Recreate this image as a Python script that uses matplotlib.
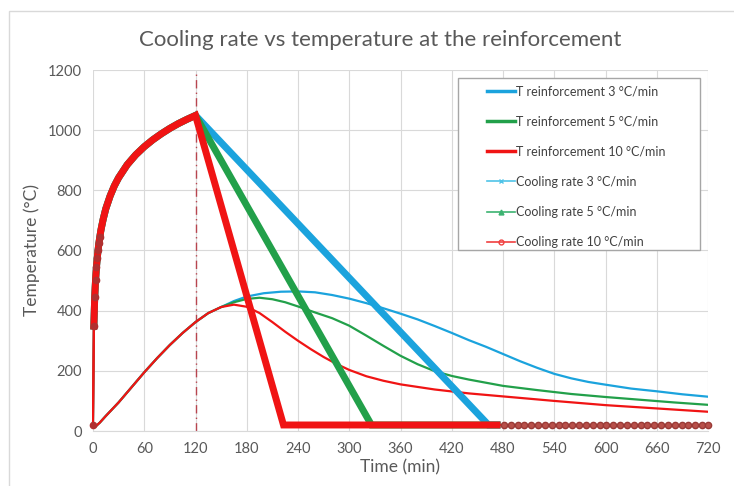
import numpy as np
import matplotlib
matplotlib.use('Agg')
from matplotlib import pyplot as plt
from matplotlib.lines import Line2D
from matplotlib.patches import Rectangle

plt.rcParams['font.family'] = ['Lato', 'DejaVu Sans']

# gas (fire) curve, heating branch shared by the three cooling rates
heat_t = [0, 1, 2, 3, 4, 5, 6, 7, 8, 9, 10, 12, 15, 20, 25, 30, 40, 50, 60, 70, 80, 90, 100, 110, 120]
heat_T = [20, 349, 445, 502, 544, 576, 603, 626, 645, 663, 678, 705, 739, 781, 815, 842, 885, 918, 945,
          968, 988, 1006, 1022, 1036, 1049]

# cooling branches: time where 20 C is reached, end of dense data
cool_end = {'3': 463, '5': 326, '10': 223}
dense_end = 473
tail_t = list(range(481, 721, 8))
ambient = 20

# temperature at the reinforcement
rf_t_common = [0, 3, 8, 15, 20, 30, 45, 60, 75, 90, 105, 120, 135, 150]
rf_T_common = [20, 15, 28, 50, 65, 95, 145, 195, 242, 286, 326, 362, 392, 412]

rf10_t = [165, 180, 195, 210, 225, 240, 255, 270, 285, 300, 320, 340, 360, 400, 440, 480, 540, 600, 660, 720]
rf10_T = [420, 413, 392, 362, 330, 300, 272, 246, 223, 203, 182, 167, 155, 138, 125, 115, 100, 86, 75, 64]

rf5_t = [165, 180, 195, 210, 225, 240, 260, 280, 300, 320, 340, 360, 380, 400, 420, 440, 480, 520, 560, 600, 640, 680, 720]
rf5_T = [428, 439, 443, 438, 428, 414, 394, 375, 350, 317, 283, 250, 222, 199, 183, 171, 150, 136, 123, 113, 104, 95, 87]

rf3_t = [165, 180, 200, 220, 240, 260, 280, 300, 320, 340, 360, 380, 400, 420, 440, 460, 480, 500, 520, 540,
         560, 580, 600, 630, 660, 690, 720]
rf3_T = [432, 447, 458, 463, 464, 461, 452, 440, 425, 408, 390, 371, 349, 326, 302, 280, 256, 232, 210, 190,
         175, 163, 154, 141, 132, 122, 114]

c_blue = '#1ba3dd'
c_green = '#22a04a'
c_red = '#f01414'
c_mk = '#b03030'

fig = plt.figure(figsize=(7.34, 4.86), dpi=100)
fig.patches.append(Rectangle((9/734, -0.01), 1.0, (486-11)/486 + 0.01, transform=fig.transFigure,
                             fill=False, edgecolor='#d9d9d9', lw=1))
ax = fig.add_axes([93/734, 55/486, 615/734, 361/486])

# reinforcement curves
ax.plot(rf_t_common + rf3_t, rf_T_common + rf3_T, color=c_blue, lw=1.6, zorder=2)
ax.plot(rf_t_common + rf5_t, rf_T_common + rf5_T, color=c_green, lw=1.6, zorder=2)
ax.plot(rf_t_common + rf10_t, rf_T_common + rf10_T, color=c_red, lw=1.6, zorder=2)

# gas curves: thin start, then thick part
for key, col in [('3', c_blue), ('5', c_green), ('10', c_red)]:
    ax.plot(heat_t[:2], heat_T[:2], color=col, lw=1.5, zorder=3, clip_on=False)
    ax.plot(heat_t[1:] + [cool_end[key], dense_end], heat_T[1:] + [ambient, ambient],
            color=col, lw=5.0, solid_joinstyle='miter', zorder=3, clip_on=False)

# discrete markers where the data points are spread out
ax.plot(heat_t[:9], heat_T[:9], color=c_red, lw=1.5, marker='o', ms=4.5,
        mfc=c_mk, mec=c_mk, zorder=4, clip_on=False)
ax.plot([dense_end] + tail_t + [720], [ambient] * (len(tail_t) + 2), color=c_red, lw=1.2, zorder=4,
        clip_on=False)
ax.plot(tail_t + [720], [ambient] * (len(tail_t) + 1), ls='none', marker='o', ms=4.5,
        mfc='#b8504a', mec='#9a3a36', zorder=4, clip_on=False)

# end of heating
ax.axvline(120, color='#b8454f', lw=1, ls=(0, (6, 3, 1, 3)), zorder=1)

ax.set_xlim(0, 720)
ax.set_ylim(0, 1200)
ax.set_xticks(range(0, 721, 60))
ax.set_yticks(range(0, 1201, 200))
ax.grid(True, color='#d9d9d9', lw=0.8)
ax.set_axisbelow(True)
for s in ['left', 'right', 'top']:
    ax.spines[s].set_visible(False)
ax.spines['bottom'].set_color('#d9d9d9')
ax.tick_params(length=0, labelsize=10.5, labelcolor='#595959', pad=8)
ax.set_xlabel('Time (min)', fontsize=12.5, color='#595959', labelpad=2)
ax.set_ylabel('Temperature (°C)', fontsize=12.5, color='#595959', labelpad=6)
fig.text(380/734, 1 - 40/486, 'Cooling rate vs temperature at the reinforcement',
         ha='center', va='center', fontsize=16, color='#595959')

# legend
ax.add_patch(Rectangle((0.594, 0.50), 0.393, 0.478, transform=ax.transAxes, facecolor='white',
                       edgecolor='#a6a6a6', lw=1, zorder=6))
handles = [
    Line2D([], [], color=c_blue, lw=2.5),
    Line2D([], [], color=c_green, lw=2.5),
    Line2D([], [], color=c_red, lw=2.5),
    Line2D([], [], color='#4fc3e8', lw=1.2, marker='x', ms=3.5),
    Line2D([], [], color='#3cb371', lw=1.2, marker='^', ms=3.5),
    Line2D([], [], color='#f04040', lw=1.2, marker='o', ms=3.5, mfc='none'),
]
labels = ['T reinforcement 3 °C/min', 'T reinforcement 5 °C/min', 'T reinforcement 10 °C/min',
          'Cooling rate 3 °C/min', 'Cooling rate 5 °C/min', 'Cooling rate 10 °C/min']
leg = ax.legend(handles, labels, loc='upper left', bbox_to_anchor=(0.625, 0.985), frameon=False,
                fontsize=9, labelcolor='#404040', handlelength=2.2, handletextpad=0.05,
                labelspacing=1.45, borderpad=0.3)
leg.set_zorder(7)

fig.savefig('out.png', dpi=100)
